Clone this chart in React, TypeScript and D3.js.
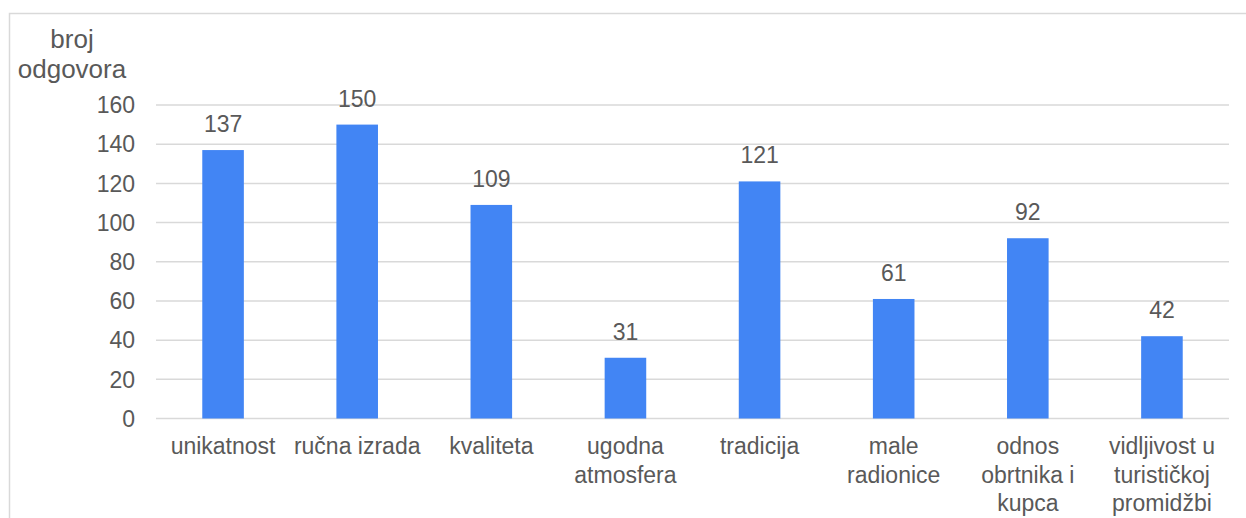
import React from "react";
import * as d3 from "d3";

const categories: string[][] = [
  ["unikatnost"],
  ["ručna izrada"],
  ["kvaliteta"],
  ["ugodna", "atmosfera"],
  ["tradicija"],
  ["male", "radionice"],
  ["odnos", "obrtnika i", "kupca"],
  ["vidljivost u", "turističkoj", "promidžbi"],
];
const values: number[] = [137, 150, 109, 31, 121, 61, 92, 42];
const yTicks: number[] = [0, 20, 40, 60, 80, 100, 120, 140, 160];
const yTitle: string[] = ["broj", "odgovora"];

const W = 1246;
const H = 518;
const left = 156;
const right = 1229;
const top = 105;
const bottom = 418.5;
const FONT = "'Liberation Sans', Arial, sans-serif";
const TXT = "#595959";
const FS = 23;

export default function App() {
  const keys = categories.map((_, i) => String(i));
  const x = d3.scaleBand<string>().domain(keys).range([left, right]).paddingInner(0.69).paddingOuter(0.345);
  const y = d3.scaleLinear().domain([0, 160]).range([bottom, top]);
  return (
    <svg width={W} height={H} style={{ position: "absolute", left: 0, top: 0 }}>
      <rect x={0} y={0} width={W} height={H} fill="#fff" />
      <rect x={9.5} y={13.5} width={W + 10} height={H + 10} fill="none" stroke="#d9d9d9" strokeWidth={1.5} />
      {yTicks.map((t) => (
        <g key={t}>
          <line x1={left} x2={right} y1={y(t)} y2={y(t)} stroke="#d9d9d9" strokeWidth={1.5} />
          <text x={135} y={y(t)} dy="0.36em" textAnchor="end" fontFamily={FONT} fontSize={FS} fill={TXT}>
            {t}
          </text>
        </g>
      ))}
      {yTitle.map((s, i) => (
        <text key={s} x={72} y={48 + i * 30} textAnchor="middle" fontFamily={FONT} fontSize={26} fill={TXT}>
          {s}
        </text>
      ))}
      {values.map((v, i) => (
        <g key={i}>
          <rect x={x(String(i))!} y={y(v)} width={x.bandwidth()} height={bottom - y(v)} fill="#4285F4" />
          <text x={x(String(i))! + x.bandwidth() / 2} y={y(v) - 18} textAnchor="middle" fontFamily={FONT} fontSize={FS} fill={TXT}>
            {v}
          </text>
        </g>
      ))}
      {categories.map((lines, i) =>
        lines.map((s, j) => (
          <text key={i + "-" + j} x={x(String(i))! + x.bandwidth() / 2} y={454 + j * 28.6} textAnchor="middle" fontFamily={FONT} fontSize={FS} fill={TXT}>
            {s}
          </text>
        ))
      )}
    </svg>
  );
}
